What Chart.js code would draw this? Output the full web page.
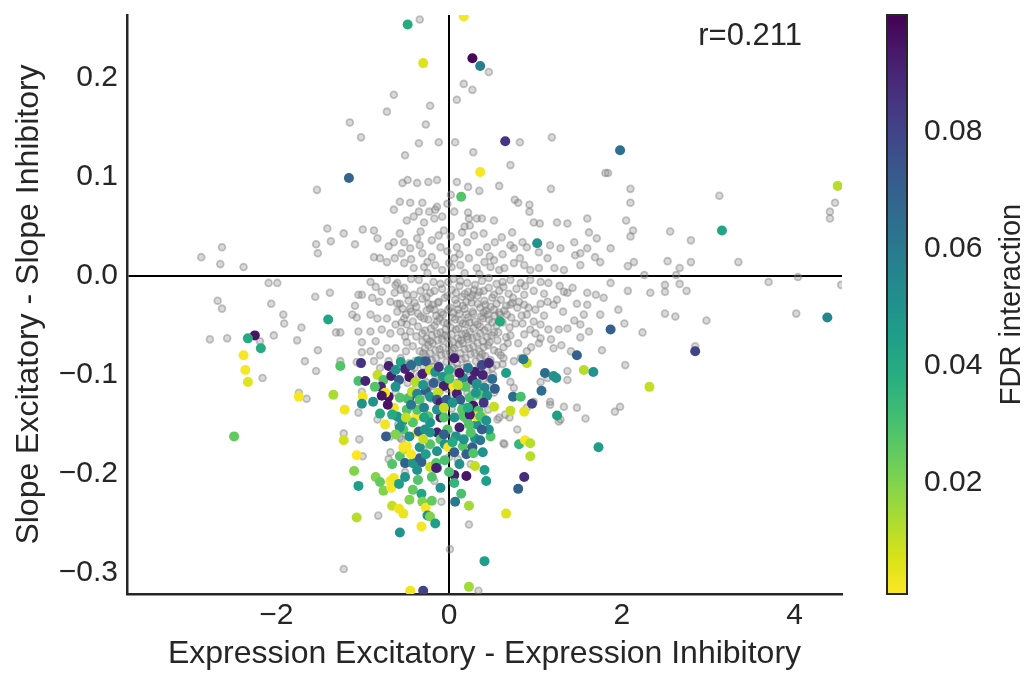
<!DOCTYPE html>
<html>
<head>
<meta charset="utf-8">
<script src="https://cdn.jsdelivr.net/npm/chart.js@4.4.1/dist/chart.umd.min.js"></script>
<style>
  html, body { margin: 0; padding: 0; background: #fff; }
</style>
</head>
<body>
<canvas id="myChart" width="1024" height="673"></canvas>
<script>
// genes that are not significant for the interaction: [expression diff, slope diff]
const grayPoints = [
  [-1.15,0.155],[-1.02,0.140],[-1.53,0.087],
  [-0.34,0.259],[0.46,0.206],[0.17,0.194],[0.27,0.188],[0.09,0.178],[-0.64,0.183],[-0.72,0.166],[-0.22,0.172],
  [-0.27,0.153],[-0.35,0.134],[-0.12,0.135],[0.07,0.135],[-0.51,0.122],[0.28,0.125],[0.82,0.135],[1.19,0.140],
  [0.71,0.112],[1.81,0.104],[-0.54,0.094],[-0.48,0.097],[-0.37,0.094],[-0.24,0.095],[-0.14,0.097],[0.09,0.095],
  [0.22,0.090],[0.35,0.086],[0.58,0.091],[1.18,0.088],[0.76,0.077],[0.80,0.074],[0.93,0.072],[0.93,0.065],
  [-0.57,0.075],[-0.45,0.074],[-0.31,0.074],[-0.14,0.070],[-0.02,0.073],[0.02,0.082],[-0.64,0.067],[-0.35,0.065],
  [-0.23,0.065],[-0.16,0.067],[0.06,0.065],[0.22,0.064],
  [1.84,0.104],[2.10,0.088],[2.10,0.074],[3.13,0.081],[4.47,0.074],[4.41,0.065],
  [-1.41,0.048],[-1.22,0.043],[-1.00,0.047],[-2.63,0.029],[-2.87,0.019],[-2.65,0.012],[-2.38,0.009],[-1.54,0.032],
  [-1.37,0.035],[-1.52,0.023],[-1.09,0.032],[-2.09,-0.007],[-1.99,-0.007],[-2.68,-0.025],[-2.63,-0.033],[-2.06,-0.028],
  [-1.92,-0.039],[-1.91,-0.048],[-1.71,-0.052],[-2.77,-0.064],[-2.57,-0.063],[-2.03,-0.060],[-1.76,-0.065],[-2.19,-0.066],
  [-1.55,-0.021],[-1.38,-0.017],[-1.31,-0.057],[-1.26,-0.057],[-1.52,-0.075],[-1.67,-0.086],[-1.54,-0.096],[-2.16,-0.103],
  [-1.74,-0.118],[-1.65,-0.124],[-1.26,-0.086],[-1.09,-0.030],[-1.12,-0.039],[-1.07,-0.042],[-1.05,-0.019],[-1.01,-0.019],
  [-1.05,-0.056],[-1.01,-0.067],[-1.01,-0.077],[-1.07,-0.087],[-1.05,-0.138],
  [2.05,0.056],[2.13,0.046],[2.10,0.040],[2.56,0.045],[2.80,0.036],[4.41,0.058],[1.87,0.028],[2.07,0.010],[2.14,0.014],
  [2.53,0.015],[2.67,0.008],[2.80,0.014],[3.35,0.014],[2.26,0.001],[2.63,0.001],[1.87,-0.007],[2.07,-0.015],[2.33,-0.017],
  [2.50,-0.009],[2.50,-0.016],[2.67,-0.008],[2.75,-0.015],[3.70,-0.006],[4.04,-0.001],[4.54,-0.009],[1.96,-0.034],
  [2.03,-0.048],[2.50,-0.038],[2.62,-0.041],[2.98,-0.045],[4.02,-0.038],[2.24,-0.057],[2.85,-0.071],[2.04,-0.090],
  [1.98,-0.132],[1.92,-0.137],
  [-1.22,-0.159],[-1.04,-0.165],[-1.00,-0.182],[-1.22,-0.296],[0.23,-0.251],[0.34,-0.318],[0.01,-0.276],[-0.82,-0.242],
  [-0.09,-0.228],[-0.37,-0.206],[-0.17,-0.207],[-0.68,-0.178],[-0.70,-0.185],[-0.51,-0.198],[-1.01,-0.117],[-0.83,-0.145],
  [-0.68,-0.162],[-0.59,-0.150],[0.56,-0.145],[0.65,-0.140],[0.63,-0.169],[0.79,-0.155],[1.29,-0.145],[1.17,-0.130],
  [-0.57,-0.163],[0.00,-0.183],[0.64,-0.170],[0.58,-0.143],[0.70,-0.143],[1.27,-0.147],[1.58,-0.144],
  [-0.62,-0.118],[-0.55,-0.165],[-0.30,-0.175],[0.02,-0.160],[0.25,-0.190],[0.45,-0.135],[-0.45,-0.130],[0.10,-0.185],
  // above the zero line, around the origin
  [-0.49,0.056],[-0.41,0.060],[-0.29,0.054],[-0.17,0.058],[-0.08,0.060],[0.23,0.058],[0.32,0.058],[0.38,0.058],
  [0.52,0.056],[0.98,0.054],[1.05,0.053],[1.25,0.054],[1.37,0.053],[1.60,0.058],[-0.87,0.046],[-0.83,0.038],
  [-0.64,0.034],[-0.57,0.043],[-0.52,0.034],[-0.45,0.028],[-0.37,0.038],[-0.34,0.031],[-0.31,0.023],[-0.20,0.019],
  [-0.12,0.041],[-0.10,0.029],[-0.06,0.046],[0.09,0.029],[0.15,0.044],[0.21,0.034],[0.24,0.051],[0.29,0.041],
  [0.35,0.024],[0.44,0.029],[0.53,0.034],[0.61,0.039],[0.73,0.044],[0.71,0.031],[0.75,0.028],[0.85,0.034],
  [0.90,0.029],[1.04,0.024],[1.14,0.018],[1.17,0.031],[1.29,0.028],[1.45,0.034],[1.46,0.021],[1.52,0.023],
  [1.60,0.028],[1.62,0.044],[1.71,0.038],[1.69,0.019],[-0.87,0.019],[-0.80,0.018],[-0.72,0.014],[-0.63,0.018],
  [-0.52,0.013],[-0.41,0.008],[-0.29,0.009],[-0.25,0.014],[-0.16,0.011],[-0.08,0.006],[0.03,0.009],[0.06,0.018],
  [0.13,0.011],[0.23,0.018],[0.32,0.008],[0.41,0.014],[0.48,0.009],[0.58,0.006],[0.64,0.008],[0.75,0.013],
  [0.87,0.011],[0.94,0.006],[1.04,0.008],[1.22,0.008],[1.33,0.006],[1.52,0.011],[1.75,0.014],
  [-0.55,0.023],[-0.44,0.017],[-0.33,0.045],[-0.20,0.036],[-0.02,0.025],[0.02,0.040],[0.12,0.022],[0.18,0.050],
  [0.40,0.043],[0.47,0.020],[0.62,0.022],[-0.70,0.030],[-0.25,0.003],[0.00,0.013],[0.18,0.003],[0.35,0.002],
  [0.52,0.016],[0.82,0.018],
  // below the zero line, right of the core
  [0.83,-0.007],[0.94,-0.004],[1.06,-0.006],[1.15,-0.007],[1.33,-0.016],[1.37,-0.017],[1.48,-0.028],[1.60,-0.017],
  [1.70,-0.019],[1.79,-0.022],[1.06,-0.028],[1.14,-0.026],[1.21,-0.029],[1.25,-0.024],[1.00,-0.034],[0.90,-0.039],
  [0.81,-0.026],[0.87,-0.019],[0.98,-0.046],[1.06,-0.049],[1.15,-0.054],[1.27,-0.054],[1.37,-0.053],[1.52,-0.049],
  [1.56,-0.039],[1.60,-0.029],[1.75,-0.039],[1.06,-0.063],[1.04,-0.068],[0.94,-0.054],[0.87,-0.059],[1.21,-0.073],
  [1.41,-0.076],[1.77,-0.075],[0.90,-0.076],[0.83,-0.083],[0.75,-0.086],[0.63,-0.083],[0.59,-0.039],[1.14,-0.103],
  [1.06,-0.107],[1.37,-0.105],[1.17,-0.127],[1.33,-0.132],[1.48,-0.133],[0.98,-0.127],[0.90,-0.133],[0.75,-0.113],
  [0.71,-0.107],[1.37,-0.096],[0.87,-0.029],[0.71,-0.029],[0.67,-0.039],
  [0.98,-0.015],[1.10,-0.018],[1.28,-0.010],[1.43,-0.012],[0.92,-0.032],[1.10,-0.040],[1.32,-0.036],[1.45,-0.045],
  [0.85,-0.048],[1.00,-0.058],[1.18,-0.064],[1.30,-0.070],[0.80,-0.068],[0.95,-0.072],[1.52,-0.062],[1.62,-0.056],
  // below the zero line, left of the core
  [-0.91,-0.006],[-0.85,-0.011],[-0.78,-0.016],[-0.89,-0.022],[-0.81,-0.026],[-0.72,-0.004],[-0.62,-0.009],[-0.56,-0.014],
  [-0.68,-0.026],[-0.60,-0.028],[-0.49,-0.019],[-0.54,-0.033],[-0.45,-0.033],[-0.91,-0.039],[-0.83,-0.043],[-0.72,-0.043],
  [-0.60,-0.036],[-0.52,-0.043],[-0.91,-0.056],[-0.85,-0.066],[-0.78,-0.054],[-0.68,-0.058],[-0.62,-0.049],[-0.56,-0.056],
  [-0.49,-0.049],[-0.91,-0.076],[-0.80,-0.080],[-0.72,-0.073],[-0.62,-0.073],[-0.56,-0.083],[-0.87,-0.086],[-0.80,-0.093],
  [-0.70,-0.086],
  // dense core
  [-0.35,-0.004],[-0.18,-0.006],[0.05,-0.003],[0.21,-0.007],[0.38,-0.005],[0.55,-0.008],[0.71,-0.004],
  [-0.52,-0.012],[-0.27,-0.011],[-0.08,-0.013],[0.12,-0.010],[0.29,-0.014],[0.46,-0.012],[0.63,-0.011],[0.78,-0.013],
  [-0.41,-0.019],[-0.22,-0.017],[-0.02,-0.020],[0.18,-0.018],[0.35,-0.016],[0.52,-0.019],[0.69,-0.018],
  [-0.47,-0.025],[-0.31,-0.023],[-0.12,-0.026],[0.07,-0.024],[0.25,-0.022],[0.41,-0.025],[0.60,-0.024],
  [-0.38,-0.031],[-0.19,-0.029],[0.01,-0.032],[0.16,-0.030],[0.33,-0.028],[0.48,-0.031],[0.66,-0.030],[0.79,-0.032],
  [-0.44,-0.036],[-0.26,-0.035],[-0.09,-0.037],[0.10,-0.034],[0.27,-0.036],[0.43,-0.035],[0.58,-0.037],
  [-0.33,-0.041],[-0.15,-0.040],[0.04,-0.042],[0.20,-0.039],[0.37,-0.041],[0.53,-0.040],[0.72,-0.042],
  [-0.42,-0.046],[-0.24,-0.044],[-0.06,-0.047],[0.13,-0.045],[0.30,-0.046],[0.46,-0.044],[0.62,-0.047],
  [-0.36,-0.051],[-0.17,-0.050],[0.02,-0.052],[0.19,-0.049],[0.36,-0.051],[0.55,-0.050],[0.70,-0.052],
  [-0.45,-0.056],[-0.28,-0.055],[-0.10,-0.057],[0.08,-0.054],[0.24,-0.056],[0.41,-0.055],[0.57,-0.057],
  [-0.38,-0.061],[-0.20,-0.060],[-0.02,-0.062],[0.15,-0.059],[0.32,-0.061],[0.49,-0.060],[0.66,-0.062],
  [-0.31,-0.066],[-0.13,-0.065],[0.05,-0.067],[0.22,-0.064],[0.39,-0.066],[0.56,-0.065],
  [-0.42,-0.071],[-0.24,-0.070],[-0.07,-0.072],[0.11,-0.069],[0.28,-0.071],[0.45,-0.070],[0.63,-0.072],
  [-0.34,-0.076],[-0.16,-0.075],[0.01,-0.077],[0.18,-0.074],[0.35,-0.076],[0.52,-0.075],
  [-0.27,-0.081],[-0.09,-0.080],[0.08,-0.082],[0.25,-0.079],[0.42,-0.081],[0.60,-0.080],
  [-0.39,-0.086],[-0.20,-0.085],[-0.03,-0.087],[0.14,-0.084],[0.31,-0.086],[0.48,-0.085],
  [-0.30,-0.091],[-0.12,-0.090],[0.04,-0.092],[0.21,-0.089],[0.37,-0.091],[0.55,-0.090],
  [-0.44,-0.096],[-0.23,-0.095],[-0.06,-0.097],[0.10,-0.094],[0.27,-0.096],[0.44,-0.095],
  [-0.35,-0.101],[-0.16,-0.100],[0.01,-0.102],[0.17,-0.099],[0.33,-0.101],[0.51,-0.100],
  [-0.27,-0.107],[-0.09,-0.105],[0.07,-0.108],[0.24,-0.106],[0.40,-0.104],
  [-0.38,-0.113],[-0.19,-0.111],[-0.02,-0.114],[0.14,-0.112],[0.30,-0.110],[0.47,-0.113],
  [-0.29,-0.119],[-0.11,-0.117],[0.05,-0.120],[0.21,-0.118],[0.37,-0.116],
  [-0.40,-0.126],[-0.21,-0.124],[-0.04,-0.127],[0.12,-0.125],[0.28,-0.123],
  [-0.32,-0.133],[-0.13,-0.131],[0.03,-0.134],[0.19,-0.132],
  [-0.25,-0.141],[-0.07,-0.139],[0.09,-0.142],
  [-0.10,-0.008],[0.13,-0.005],[0.30,-0.009],[-0.17,-0.015],[0.03,-0.014],[0.22,-0.016],[0.40,-0.015],
  [-0.26,-0.021],[-0.05,-0.022],[0.15,-0.021],[0.33,-0.020],[0.50,-0.022],[-0.13,-0.027],[0.09,-0.028],[0.26,-0.027],
  [0.42,-0.029],[-0.22,-0.033],[-0.01,-0.034],[0.18,-0.033],[0.36,-0.032],[0.52,-0.034],[-0.07,-0.039],[0.12,-0.038],
  [0.28,-0.038],[0.45,-0.039],[-0.29,-0.043],[-0.11,-0.043],[0.07,-0.044],[0.22,-0.042],[0.39,-0.043],[-0.02,-0.048],
  [0.16,-0.048],[0.33,-0.049],[0.50,-0.047],[-0.21,-0.053],[-0.04,-0.054],[0.11,-0.053],[0.28,-0.053],[0.45,-0.052],
  [-0.14,-0.058],[0.03,-0.059],[0.19,-0.058],[0.36,-0.058],[-0.26,-0.063],[-0.08,-0.064],[0.10,-0.063],[0.27,-0.063],
  [0.44,-0.062],[-0.19,-0.068],[0.00,-0.069],[0.16,-0.068],[0.33,-0.068],[-0.28,-0.073],[-0.11,-0.074],[0.06,-0.073],
  [0.23,-0.073],[0.40,-0.072],[-0.22,-0.078],[-0.04,-0.079],[0.13,-0.078],[0.30,-0.078],[-0.15,-0.083],[0.03,-0.084],
  [0.19,-0.083],[0.36,-0.083],
  [-0.60,-0.007],[-0.44,-0.003],[-0.01,-0.006],[0.46,-0.002],[0.62,-0.006],[0.88,-0.010],
  [-0.63,-0.017],[-0.33,-0.015],[0.08,-0.017],[0.27,-0.019],[0.58,-0.015],[0.74,-0.022],
  [-0.57,-0.028],[-0.40,-0.027],[-0.24,-0.028],[0.20,-0.026],[0.55,-0.028],[0.73,-0.027],
  [-0.50,-0.039],[-0.36,-0.038],[-0.17,-0.034],[0.05,-0.037],[0.40,-0.037],[0.64,-0.035],[0.84,-0.040],
  [-0.55,-0.047],[-0.14,-0.046],[0.24,-0.047],[0.58,-0.045],[0.77,-0.048],
  [-0.51,-0.061],[-0.31,-0.058],[-0.05,-0.060],[0.21,-0.061],[0.52,-0.057],[0.71,-0.060],
  [-0.49,-0.067],[-0.22,-0.066],[0.14,-0.065],[0.47,-0.067],[0.68,-0.068],
  [-0.50,-0.076],[-0.30,-0.078],[0.04,-0.075],[0.38,-0.079],[0.57,-0.077],
  [-0.46,-0.088],[-0.25,-0.088],[0.09,-0.088],[0.43,-0.087],[0.62,-0.089],
  [-0.40,-0.093],[-0.18,-0.092],[0.16,-0.093],[0.33,-0.094],[0.50,-0.093],
  [-0.29,-0.098],[0.06,-0.098],[0.22,-0.102],[0.47,-0.104],
  [-0.48,-0.108],[-0.14,-0.108],[0.12,-0.107],[0.33,-0.108],
  [-0.24,-0.114],[0.09,-0.115],[0.26,-0.115],[0.52,-0.118]
];

// genes with a significant interaction: [expression diff, slope diff, FDR]
const sigPoints = [
  [-1.16,0.099,0.068],
  [-0.48,0.254,0.040],[0.17,0.262,0.002],[-0.30,0.215,0.006],[0.27,0.220,0.098],[0.36,0.212,0.058],
  [0.65,0.136,0.085],[0.36,0.105,0.002],[0.14,0.080,0.028],[1.98,0.127,0.064],[4.50,0.091,0.012],
  [-2.25,-0.060,0.095],[-2.33,-0.063,0.040],[-2.18,-0.073,0.040],[-2.38,-0.080,0.002],[-2.36,-0.095,0.002],
  [-2.33,-0.107,0.006],[-1.40,-0.044,0.042],[-1.26,-0.091,0.028],[-1.02,-0.088,0.085],[-1.05,-0.106,0.030],
  [-0.97,-0.106,0.090],[-1.74,-0.122,0.002],[-1.34,-0.120,0.014],[-1.21,-0.135,0.003],[-1.00,-0.122,0.003],
  [-1.01,-0.129,0.050],
  [3.16,0.046,0.042],[1.87,-0.054,0.070],[2.85,-0.076,0.080],[2.32,-0.112,0.010],[4.38,-0.042,0.055],
  [-2.49,-0.162,0.025],[-1.22,-0.166,0.008],[-1.07,-0.181,0.001],[-1.10,-0.197,0.020],[-1.05,-0.212,0.045],
  [-1.07,-0.244,0.012],
  [1.02,0.033,0.050],[0.59,-0.046,0.040],[1.48,-0.080,0.070],[1.56,-0.095,0.012],[1.67,-0.097,0.050],
  [0.90,-0.088,0.010],[0.86,-0.084,0.060],[0.66,-0.098,0.045],[1.11,-0.098,0.065],[1.21,-0.101,0.050],
  [1.24,-0.103,0.050],[1.07,-0.116,0.065],[1.25,-0.141,0.045],[0.96,-0.129,0.080],[0.87,-0.137,0.005],
  [0.71,-0.136,0.010],[0.74,-0.122,0.065],[0.83,-0.122,0.030],
  [1.73,-0.173,0.045],[0.81,-0.170,0.035],[0.88,-0.166,0.002],[0.94,-0.169,0.012],[0.94,-0.182,0.012],
  [0.87,-0.203,0.088],[0.80,-0.215,0.070],[0.66,-0.240,0.006],[0.23,-0.232,0.015],[0.41,-0.288,0.045],
  [0.23,-0.314,0.015],[0.07,-0.228,0.060],[0.41,-0.196,0.045],[0.43,-0.207,0.045],[0.06,-0.201,0.092],
  [0.20,-0.202,0.095],[0.06,-0.209,0.035],[0.00,-0.198,0.030],
  [-0.85,-0.203,0.020],[-0.80,-0.208,0.025],[-0.76,-0.217,0.020],[-0.68,-0.207,0.002],[-0.64,-0.204,0.003],
  [-0.67,-0.214,0.002],[-0.51,-0.203,0.048],[-0.42,-0.216,0.025],[-0.32,-0.220,0.042],[-0.31,-0.228,0.020],
  [-0.66,-0.232,0.010],[-0.58,-0.235,0.003],[-0.53,-0.240,0.004],[-0.27,-0.234,0.002],[-0.20,-0.227,0.025],
  [-0.25,-0.242,0.050],[-0.22,-0.243,0.020],[-0.16,-0.250,0.045],[-0.32,-0.253,0.002],[-0.57,-0.259,0.050],
  [-0.45,-0.318,0.003],[-0.30,-0.318,0.080],
  [-0.70,-0.091,0.092],[-0.56,-0.087,0.042],[-0.35,-0.086,0.058],[-0.27,-0.086,0.072],[0.06,-0.083,0.092],
  [0.38,-0.090,0.078],[0.46,-0.088,0.088],[0.30,-0.097,0.092],[0.39,-0.100,0.090],
  [-0.83,-0.100,0.010],[-0.76,-0.105,0.028],[-0.67,-0.101,0.092],[-0.58,-0.105,0.072],[-0.51,-0.094,0.090],
  [-0.46,-0.102,0.095],[-0.39,-0.107,0.012],[-0.31,-0.099,0.092],[-0.22,-0.095,0.010],[-0.16,-0.097,0.050],
  [-0.07,-0.102,0.048],[-0.06,-0.111,0.092],[0.05,-0.111,0.002],[0.16,-0.103,0.055],[0.27,-0.105,0.090],
  [0.19,-0.112,0.028],[0.41,-0.113,0.055],[0.53,-0.114,0.070],[0.35,-0.120,0.028],
  [-0.79,-0.112,0.090],[-0.70,-0.122,0.095],[-0.88,-0.127,0.050],[-0.57,-0.123,0.028],[-0.46,-0.123,0.070],
  [-0.64,-0.133,0.003],[-0.74,-0.118,0.003],[-0.78,-0.121,0.095],[-0.71,-0.130,0.095],[-0.48,-0.124,0.030],
  [-0.43,-0.117,0.010],[-0.37,-0.119,0.055],[-0.34,-0.125,0.028],[-0.27,-0.116,0.072],[-0.22,-0.122,0.050],
  [-0.13,-0.118,0.010],[-0.14,-0.125,0.070],[-0.10,-0.128,0.092],[-0.03,-0.125,0.070],[0.09,-0.119,0.092],
  [0.13,-0.125,0.072],[0.16,-0.134,0.050],[0.24,-0.123,0.030],[0.28,-0.131,0.095],[0.31,-0.118,0.048],
  [0.44,-0.121,0.050],[0.34,-0.136,0.030],
  [-0.80,-0.139,0.040],[-0.60,-0.142,0.050],[-0.54,-0.147,0.048],[-0.49,-0.135,0.028],[-0.38,-0.142,0.002],
  [-0.37,-0.135,0.028],[-0.29,-0.133,0.055],[-0.24,-0.142,0.028],[-0.22,-0.148,0.050],[-0.10,-0.143,0.092],
  [-0.14,-0.135,0.050],[-0.42,-0.148,0.028],[-0.37,-0.158,0.002],[-0.53,-0.155,0.028],[-0.74,-0.150,0.003],
  [-0.73,-0.162,0.072],[0.06,-0.143,0.050],[0.15,-0.135,0.028],[0.21,-0.145,0.030],[0.12,-0.153,0.092],
  [0.32,-0.150,0.050],[0.38,-0.142,0.010],[0.48,-0.162,0.028],[0.46,-0.155,0.050],[0.31,-0.142,0.002],
  [0.38,-0.155,0.072],[-0.02,-0.155,0.028],[-0.14,-0.158,0.092],[-0.22,-0.158,0.050],
  [-0.57,-0.182,0.028],[-0.52,-0.175,0.010],[-0.49,-0.172,0.002],[-0.34,-0.173,0.050],[-0.51,-0.189,0.070],
  [-0.32,-0.188,0.070],[-0.42,-0.189,0.048],[-0.22,-0.170,0.028],[-0.14,-0.177,0.050],[-0.10,-0.165,0.028],
  [-0.05,-0.170,0.050],[-0.22,-0.193,0.010],[-0.15,-0.189,0.028],[-0.01,-0.173,0.002],[0.06,-0.178,0.070],
  [0.08,-0.162,0.050],[0.16,-0.172,0.028],[0.20,-0.180,0.070],[0.27,-0.173,0.072],[0.30,-0.164,0.050],
  [0.28,-0.179,0.028],[0.39,-0.178,0.050],
  [-0.37,-0.196,0.050],[-0.20,-0.203,0.028],[-0.14,-0.194,0.050],[-0.36,-0.206,0.028],
  [-0.50,-0.143,0.010],[-0.29,-0.143,0.042],[-0.06,-0.143,0.028],[0.17,-0.142,0.028],[0.24,-0.140,0.092],
  [0.36,-0.142,0.028],[0.43,-0.146,0.050],[-0.57,-0.153,0.050],[-0.35,-0.157,0.070],[-0.28,-0.155,0.050],
  [0.23,-0.150,0.028],[0.17,-0.165,0.050],[-0.53,-0.173,0.002],[-0.34,-0.184,0.070],[-0.15,-0.194,0.092],
  [-0.62,-0.095,0.050],[-0.44,-0.090,0.065],[-0.12,-0.092,0.085],[0.00,-0.095,0.040],[0.22,-0.093,0.060],
  [0.12,-0.098,0.095],[-0.86,-0.112,0.028],[-0.62,-0.112,0.050],[-0.30,-0.110,0.048],[-0.18,-0.108,0.070],
  [0.00,-0.104,0.030],[0.10,-0.110,0.010],[0.32,-0.109,0.050],[0.50,-0.104,0.065],
  [-0.66,-0.140,0.040],[-0.44,-0.130,0.060],[-0.06,-0.133,0.010],[0.04,-0.128,0.050],[0.22,-0.133,0.040],
  [0.40,-0.128,0.085],[0.52,-0.132,0.010],[-0.62,-0.160,0.020],[-0.46,-0.162,0.050],[-0.30,-0.165,0.010],
  [-0.06,-0.160,0.070],[0.04,-0.168,0.040],[0.25,-0.158,0.028],[0.36,-0.166,0.060],
  [-0.66,-0.190,0.028],[-0.44,-0.180,0.002],[-0.27,-0.180,0.045],[-0.05,-0.186,0.030],[0.12,-0.190,0.050],
  [0.30,-0.192,0.010],[-0.58,-0.210,0.045],[-0.46,-0.226,0.020],[-0.10,-0.214,0.050],[0.14,-0.220,0.030]
];

const xTicks = [-2, 0, 2, 4];
const yTicks = [-0.3, -0.2, -0.1, 0.0, 0.1, 0.2];
const fdrTicks = [0.02, 0.04, 0.06, 0.08];
const fdrRange = [0.001, 0.1];
const corrLabel = "r=0.211";

const FONT = "'Liberation Sans', Arial, sans-serif";
const INK = "#262626";

// viridis, sampled every 1/16
const VIRIDIS = ["#440154","#48186a","#472d7b","#424086","#3b528b","#33638d","#2c728e","#26828e",
  "#21918c","#1fa088","#28ae80","#3fbc73","#5ec962","#84d44b","#addc30","#d8e219","#fde725"];

function hexRgb(h) {
  return [parseInt(h.slice(1, 3), 16), parseInt(h.slice(3, 5), 16), parseInt(h.slice(5, 7), 16)];
}
function viridis(t) {
  t = Math.min(1, Math.max(0, t));
  const n = VIRIDIS.length - 1;
  const i = Math.min(n - 1, Math.floor(t * n));
  const f = t * n - i;
  const a = hexRgb(VIRIDIS[i]), b = hexRgb(VIRIDIS[i + 1]);
  const c = a.map((v, k) => Math.round(v + (b[k] - v) * f));
  return "rgb(" + c.join(",") + ")";
}
// reversed map: small FDR is yellow
function fdrColor(v) {
  return viridis(1 - (v - fdrRange[0]) / (fdrRange[1] - fdrRange[0]));
}
function minus(s) {
  return s.replace("-", "\u2212");
}
// vertical axes: keep the big label padding from pushing the plot area around
function noVPad(s) {
  s.paddingTop = 0;
  s.paddingBottom = 0;
}

const extras = {
  id: "extras",
  afterDraw(chart) {
    const { ctx, chartArea: a } = chart;
    const cb = chart.scales.fdr;
    const x0 = cb.left + 45, w = 20;
    ctx.save();
    // colour bar
    const g = ctx.createLinearGradient(0, cb.bottom, 0, cb.top);
    for (let i = 0; i <= 32; i++) {
      const v = fdrRange[0] + (fdrRange[1] - fdrRange[0]) * i / 32;
      g.addColorStop(i / 32, fdrColor(v));
    }
    ctx.fillStyle = g;
    ctx.fillRect(x0, cb.top, w, cb.bottom - cb.top);
    ctx.strokeStyle = INK;
    ctx.lineWidth = 2;
    ctx.strokeRect(x0, cb.top, w, cb.bottom - cb.top);

    ctx.fillStyle = INK;
    ctx.font = "31px " + FONT;
    ctx.textBaseline = "middle";
    ctx.textAlign = "right";
    ctx.fillText(corrLabel, a.right - 40, a.top + 21);

    ctx.font = "29px " + FONT;
    ctx.translate(1012, (cb.top + cb.bottom) / 2);
    ctx.rotate(-Math.PI / 2);
    ctx.textAlign = "center";
    ctx.fillText("FDR interaction", 0, 0);
    ctx.restore();
  }
};

const tickFont = { family: FONT, size: 30 };
const titleFont = { family: FONT, size: 32 };

const config = {
  type: "scatter",
  data: {
    datasets: [
      {
        label: "FDR < 0.1",
        order: 0,
        data: sigPoints.map(p => ({ x: p[0], y: p[1], f: p[2] })),
        pointRadius: 5,
        pointBorderWidth: 0,
        pointBackgroundColor: c => fdrColor(c.raw.f),
        clip: 0
      },
      {
        label: "other",
        order: 1,
        data: grayPoints.map(p => ({ x: p[0], y: p[1] })),
        pointRadius: 3.4,
        pointBorderWidth: 1.8,
        pointBackgroundColor: "rgba(128,128,128,0.3)",
        pointBorderColor: "rgba(128,128,128,0.45)",
        clip: 0
      }
    ]
  },
  options: {
    responsive: false,
    animation: false,
    events: [],
    layout: { padding: { top: 15, right: 0, bottom: 0, left: 0 } },
    plugins: { legend: { display: false }, tooltip: { enabled: false } },
    scales: {
      x: {
        type: "linear",
        min: -3.73,
        max: 4.55,
        afterFit: s => { s.height = 79; },
        afterBuildTicks: s => { s.ticks = xTicks.map(v => ({ value: v })); },
        grid: {
          color: c => (c.tick && c.tick.value === 0 ? "#000" : "rgba(0,0,0,0)"),
          lineWidth: 2,
          drawTicks: false
        },
        border: { color: INK, width: 2.5 },
        ticks: { padding: 4, color: INK, font: tickFont, callback: v => minus(String(v)) },
        title: {
          display: true,
          text: "Expression Excitatory - Expression Inhibitory",
          color: INK,
          font: titleFont,
          padding: { top: 0, bottom: 0 }
        }
      },
      y: {
        type: "linear",
        min: -0.3212,
        max: 0.2636,
        afterFit: s => { s.width = 127; noVPad(s); },
        afterBuildTicks: s => { s.ticks = yTicks.map(v => ({ value: v })); },
        grid: {
          color: c => (c.tick && Math.abs(c.tick.value) < 1e-9 ? "#000" : "rgba(0,0,0,0)"),
          lineWidth: 2,
          drawTicks: false
        },
        border: { color: INK, width: 2.5 },
        ticks: { padding: 9, color: INK, font: tickFont, callback: v => minus(v.toFixed(1)) },
        title: {
          display: true,
          text: "Slope Excitatory - Slope Inhibitory",
          color: INK,
          font: titleFont,
          padding: { top: 10, bottom: 0 }
        }
      },
      fdr: {
        type: "linear",
        position: "right",
        min: fdrRange[0],
        max: fdrRange[1],
        afterFit: s => { s.width = 182; noVPad(s); },
        afterBuildTicks: s => { s.ticks = fdrTicks.map(v => ({ value: v })); },
        grid: { display: false, drawTicks: false },
        border: { display: false },
        ticks: { padding: 82, color: INK, font: tickFont, callback: v => v.toFixed(2) }
      }
    }
  },
  plugins: [extras]
};

const myChart = new Chart(document.getElementById("myChart"), config);
</script>
</body>
</html>
